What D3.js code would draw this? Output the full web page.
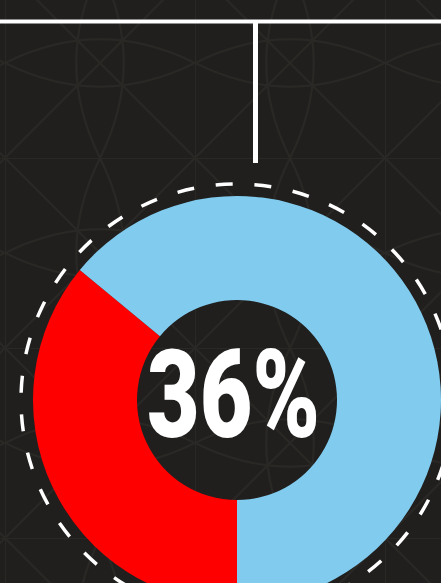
<!DOCTYPE html>
<html><head><meta charset="utf-8">
<script src="https://cdn.jsdelivr.net/npm/d3@7"></script>
<style>html,body{margin:0;padding:0;background:#201f1e;overflow:hidden}</style>
</head><body>
<svg id="c" width="441" height="583"></svg>
<script>
const categories = ["Share", "Rest"];
const values = [36, 64];
const colors = ["#ff0000", "#80cbee"];
const label = "36%";

const svg = d3.select("#c");
const W = 441, H = 583;
const cx = 237, cy = 400;

// background pattern
const defs = svg.append("defs");
const P = 190;
const pat = defs.append("pattern").attr("id","bgp").attr("patternUnits","userSpaceOnUse")
  .attr("width",P).attr("height",P).attr("x",5).attr("y",-32);
pat.append("rect").attr("width",P).attr("height",P).attr("fill","#201f1e");
const pg = pat.append("g").attr("stroke","#292825").attr("stroke-width",2).attr("fill","none");
pg.append("line").attr("x1",0).attr("y1",0).attr("x2",P).attr("y2",0);
pg.append("line").attr("x1",0).attr("y1",0).attr("x2",0).attr("y2",P);
pg.append("path").attr("d",`M0,${P/2} Q${P/2},${P/4} ${P},${P/2}`);
pg.append("path").attr("d",`M0,${P/2} Q${P/2},${3*P/4} ${P},${P/2}`);
pg.append("path").attr("d",`M${P/2},0 Q${P/4},${P/2} ${P/2},${P}`);
pg.append("path").attr("d",`M${P/2},0 Q${3*P/4},${P/2} ${P/2},${P}`);
pg.append("line").attr("x1",0).attr("y1",0).attr("x2",P).attr("y2",P);
pg.append("line").attr("x1",P).attr("y1",0).attr("x2",0).attr("y2",P);
svg.append("rect").attr("width",W).attr("height",H).attr("fill","url(#bgp)");

// connector lines
svg.append("line").attr("x1",0).attr("x2",W).attr("y1",21.5).attr("y2",21.5)
  .attr("stroke","#fff").attr("stroke-width",4);
svg.append("line").attr("x1",255.5).attr("x2",255.5).attr("y1",21).attr("y2",163)
  .attr("stroke","#fff").attr("stroke-width",5);

// dashed ring
svg.append("circle").attr("cx",cx).attr("cy",cy).attr("r",216)
  .attr("fill","none").attr("stroke","#fff").attr("stroke-width",3.5)
  .attr("stroke-dasharray","17 21.8").attr("stroke-dashoffset",12.7);

// donut
const pie = d3.pie().sort(null).startAngle(Math.PI).endAngle(3*Math.PI);
const arc = d3.arc().innerRadius(100).outerRadius(204);
const g = svg.append("g").attr("transform",`translate(${cx},${cy})`);
g.selectAll("path").data(pie(values)).join("path")
  .attr("d",arc).attr("fill",(d,i)=>colors[i]);

// label
svg.append("text").attr("x",233.5).attr("y",437)
  .attr("text-anchor","middle")
  .attr("font-family","Roboto, 'DejaVu Sans Condensed', sans-serif")
  .attr("font-weight",900).attr("font-size",122)
  .attr("textLength",173).attr("lengthAdjust","spacingAndGlyphs")
  .attr("fill","#fff").text(label);
</script>
</body></html>
